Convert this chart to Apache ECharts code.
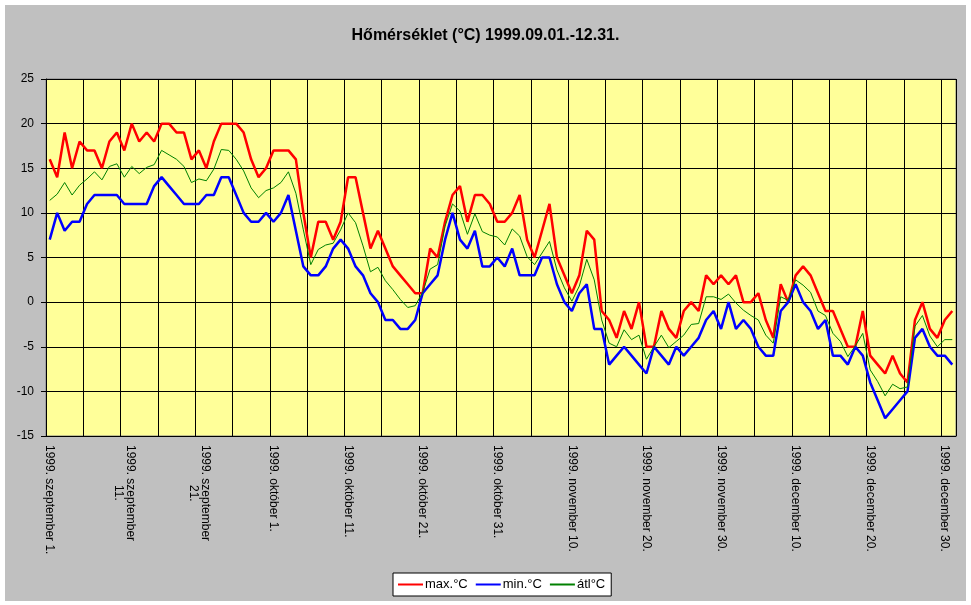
<!DOCTYPE html>
<html>
<head>
<meta charset="utf-8">
<script src="https://cdn.jsdelivr.net/npm/echarts@6/dist/echarts.min.js"></script>
<style>
    html, body { margin: 0; padding: 0; background: #fff; }
    #frame { position: absolute; left: 5px; top: 5px; width: 961px; height: 596px; background: #c0c0c0; }
    #chart { position: absolute; left: 0; top: 0; width: 971px; height: 605px; }
</style>
</head>
<body>
<div id="frame"></div>
<div id="chart"></div>
<script>
// napi hőmérséklet 1999.09.01 - 12.31 (122 nap)
const months = ['szeptember', 'október', 'november', 'december'];
const monthLengths = [30, 31, 30, 31];

const tickLabels = [
    '1999. szeptember 1.',
    '1999. szeptember\n            11.',
    '1999. szeptember\n            21.',
    '1999. október 1.',
    '1999. október 11.',
    '1999. október 21.',
    '1999. október 31.',
    '1999. november 10.',
    '1999. november 20.',
    '1999. november 30.',
    '1999. december 10.',
    '1999. december 20.',
    '1999. december 30.'
];

const maxTemp = [
    16, 14, 19, 15, 18, 17, 17, 15, 18, 19, 17, 20, 18, 19, 18, 20, 20, 19, 19, 16, 17,
    15, 18, 20, 20, 20, 19, 16, 14, 15, 17, 17, 17, 16, 10, 5, 9, 9, 7, 9, 14, 14,
    10, 6, 8, 6, 4, 3, 2, 1, 1, 6, 5, 9, 12, 13, 9, 12, 12, 11, 9, 9,
    10, 12, 7, 5, 8, 11, 5, 3, 1, 3, 8, 7, -1, -2, -4, -1, -3, 0, -5, -5,
    -1, -3, -4, -1, 0, -1, 3, 2, 3, 2, 3, 0, 0, 1, -2, -4, 2, 0, 3, 4,
    3, 1, -1, -1, -3, -5, -5, -1, -6, -7, -8, -6, -8, -9, -2, 0, -3, -4, -2, -1
];

const minTemp = [
    7, 10, 8, 9, 9, 11, 12, 12, 12, 12, 11, 11, 11, 11, 13, 14, 13, 12, 11, 11, 11,
    12, 12, 14, 14, 12, 10, 9, 9, 10, 9, 10, 12, 8, 4, 3, 3, 4, 6, 7, 6, 4,
    3, 1, 0, -2, -2, -3, -3, -2, 1, 2, 3, 7, 10, 7, 6, 8, 4, 4, 5, 4,
    6, 3, 3, 3, 5, 5, 2, 0, -1, 1, 2, -3, -3, -7, -6, -5, -6, -7, -8, -5,
    -6, -7, -5, -6, -5, -4, -2, -1, -3, 0, -3, -2, -3, -5, -6, -6, -1, 0, 2, 0,
    -1, -3, -2, -6, -6, -7, -5, -6, -9, -11, -13, -12, -11, -10, -4, -3, -5, -6, -6, -7
];

const avgTemp = [
    11.4, 12.1, 13.4, 12.0, 13.1, 13.8, 14.6, 13.7, 15.2, 15.5, 14.0, 15.2, 14.4, 15.1, 15.4, 17.0, 16.5, 16.0, 15.2, 13.4, 13.8,
    13.6, 14.9, 17.1, 17.0, 16.0, 14.7, 12.8, 11.7, 12.5, 12.8, 13.4, 14.6, 12.2, 8.1, 4.2, 5.9, 6.4, 6.6, 8.1, 10.0, 8.9,
    6.3, 3.4, 3.9, 2.4, 1.4, 0.3, -0.6, -0.4, 1.1, 3.7, 4.2, 8.5, 11.0, 10.2, 7.6, 9.9, 7.9, 7.5, 7.3, 6.4,
    8.2, 7.4, 5.1, 4.2, 5.5, 6.8, 3.6, 1.6, 0.1, 1.8, 4.8, 2.5, -2.0, -4.6, -5.0, -3.1, -4.2, -3.7, -6.4, -5.0,
    -3.7, -5.1, -4.4, -3.7, -2.5, -2.4, 0.6, 0.6, 0.3, 0.9, -0.1, -0.9, -1.5, -2.0, -3.7, -4.6, 0.6, 0.2, 2.5, 1.9,
    1.1, -1.0, -1.5, -3.5, -4.4, -6.1, -4.9, -3.5, -7.6, -8.9, -10.5, -9.2, -9.7, -9.5, -2.7, -1.5, -3.8, -5.0, -4.2, -4.2
];

// kategóriák: minden nap egy dátum
const days = [];
months.forEach(function (m, mi) {
    for (let d = 1; d <= monthLengths[mi]; d++) {
        days.push('1999. ' + m + ' ' + d + '.');
    }
});

const chart = echarts.init(document.getElementById('chart'));

const option = {
    backgroundColor: 'transparent',
    animation: false,
    textStyle: { fontFamily: 'Arial, "Liberation Sans", sans-serif' },
    title: {
        text: 'Hőmérséklet (°C) 1999.09.01.-12.31.',
        left: 'center',
        top: 23,
        textStyle: { fontSize: 16, fontWeight: 'bold', color: '#000' }
    },
    legend: {
        data: ['max.°C', 'min.°C', 'átl°C'],
        left: 393,
        top: 573,
        orient: 'horizontal',
        icon: 'rect',
        backgroundColor: '#fff',
        borderColor: '#000',
        borderWidth: 1,
        borderRadius: 0,
        padding: [5, 6, 5, 5],
        itemWidth: 25,
        itemHeight: 2,
        itemGap: 8,
        textStyle: { fontSize: 13, color: '#000', padding: [0, 0, 0, -3] }
    },
    grid: {
        left: 46,
        top: 79,
        width: 910,
        height: 357,
        show: true,
        backgroundColor: '#ffff99',
        borderColor: '#808080',
        borderWidth: 1
    },
    xAxis: {
        type: 'category',
        data: days,
        boundaryGap: true,
        axisLine: { onZero: false, lineStyle: { color: '#000', width: 1 } },
        axisTick: { interval: 9, length: 5, lineStyle: { color: '#000' } },
        axisLabel: {
            interval: 9,
            rotate: -90,
            margin: 9,
            fontSize: 12,
            color: '#000',
            formatter: function (value, index) {
                return tickLabels[index / 10];
            }
        },
        splitLine: { show: true, interval: 4, lineStyle: { color: '#000', width: 1 } }
    },
    yAxis: {
        type: 'value',
        min: -15,
        max: 25,
        interval: 5,
        axisLine: { show: true, lineStyle: { color: '#000', width: 1 } },
        axisTick: { show: true, length: 5, lineStyle: { color: '#000' } },
        axisLabel: { fontSize: 12, color: '#000', margin: 12 },
        splitLine: { show: true, lineStyle: { color: '#000', width: 1 } }
    },
    series: [
        {
            name: 'max.°C',
            type: 'line',
            data: maxTemp,
            symbol: 'none',
            lineStyle: { color: '#ff0000', width: 2.5 },
            itemStyle: { color: '#ff0000' }
        },
        {
            name: 'min.°C',
            type: 'line',
            data: minTemp,
            symbol: 'none',
            lineStyle: { color: '#0000ff', width: 2.5 },
            itemStyle: { color: '#0000ff' }
        },
        {
            name: 'átl°C',
            type: 'line',
            data: avgTemp,
            symbol: 'none',
            lineStyle: { color: '#008000', width: 1 },
            itemStyle: { color: '#008000' }
        }
    ]
};

chart.setOption(option);
</script>
</body>
</html>
